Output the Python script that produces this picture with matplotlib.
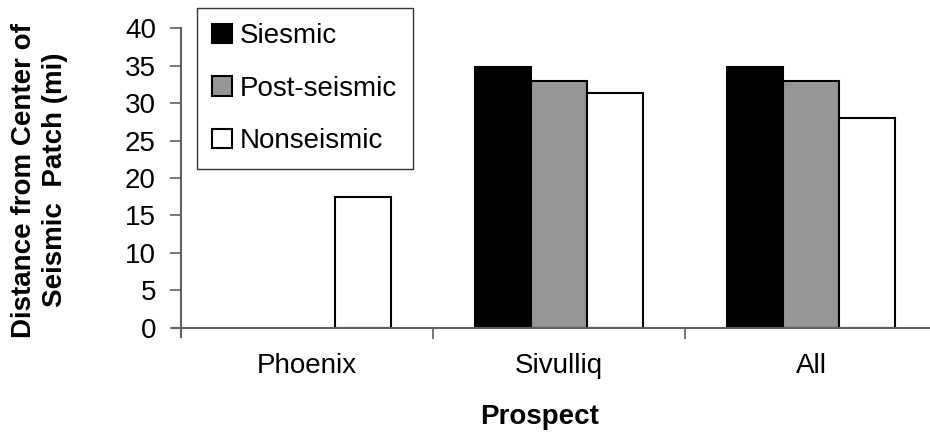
import numpy as np
import matplotlib
matplotlib.use("Agg")
import matplotlib.pyplot as plt

plt.rcParams['font.family'] = ['Liberation Sans', 'DejaVu Sans']

prospects = ["Phoenix", "Sivulliq", "All"]
siesmic = [0.0, 34.8, 34.8]
post_seismic = [0.0, 33.0, 33.0]
nonseismic = [17.5, 31.4, 28.0]
series_names = ["Siesmic", "Post-seismic", "Nonseismic"]
y_ticks = [0, 5, 10, 15, 20, 25, 30, 35, 40]

fig = plt.figure(figsize=(9.30, 4.36), dpi=100)
ax = fig.add_axes([181 / 930, 1 - 327.7 / 436, 756 / 930, 299.4 / 436])

x = np.arange(len(prospects))
w = 0.222
colors = ["#000000", "#969696", "#ffffff"]
handles = []
for i, (vals, col, name) in enumerate(zip([siesmic, post_seismic, nonseismic], colors, series_names)):
    v = np.array(vals)
    h = np.where(v > 0, v, np.nan)
    b = ax.bar(x + (i - 1) * w, h, width=w, color=col, edgecolor="#000000",
               linewidth=1.5, label=name, zorder=2)
    handles.append(b)

ax.set_xlim(-0.5, 2.5)
ax.set_ylim(0, 40)
ax.set_yticks(y_ticks)
ax.set_yticklabels([str(t) for t in y_ticks], fontsize=20)

ax.set_xticks(x)
ax.set_xticklabels(prospects, fontsize=20)
ax.set_xticks([0.5, 1.5], minor=True)
ax.tick_params(axis="x", which="major", length=0, pad=18)
ax.tick_params(axis="x", which="minor", length=8, width=1.2, color="#606060", direction="out")
ax.tick_params(axis="y", length=8, width=1.2, color="#606060", direction="out", pad=10)

for s in ["top", "right"]:
    ax.spines[s].set_visible(False)
for s in ["left", "bottom"]:
    ax.spines[s].set_color("#606060")
    ax.spines[s].set_linewidth(1.5)
    ax.spines[s].set_zorder(3)
ax.spines["left"].set_bounds(-1.2, 40)
ax.spines["bottom"].set_bounds(-0.53, 2.5)

fig.text(540 / 930, 1 - 417 / 436, "Prospect", fontsize=20, fontweight="bold",
         ha="center", va="center")
fig.text(40 / 930, 1 - 180 / 436, "Distance from Center of\nSeismic  Patch (mi)",
         fontsize=20, fontweight="bold", rotation=90, ha="center", va="center",
         multialignment="center", linespacing=1.25)

leg = ax.legend(handles=handles, loc="upper left",
                bbox_to_anchor=(197 / 930, 1 - 8 / 436), bbox_transform=fig.transFigure,
                fontsize=20, frameon=True, fancybox=False, handlelength=0.7,
                handleheight=0.7, handletextpad=0.3, labelspacing=0.95,
                borderpad=0.55, borderaxespad=0)
leg.get_frame().set_edgecolor("#000000")
leg.get_frame().set_linewidth(1.0)

fig.savefig("out.png", dpi=100)
